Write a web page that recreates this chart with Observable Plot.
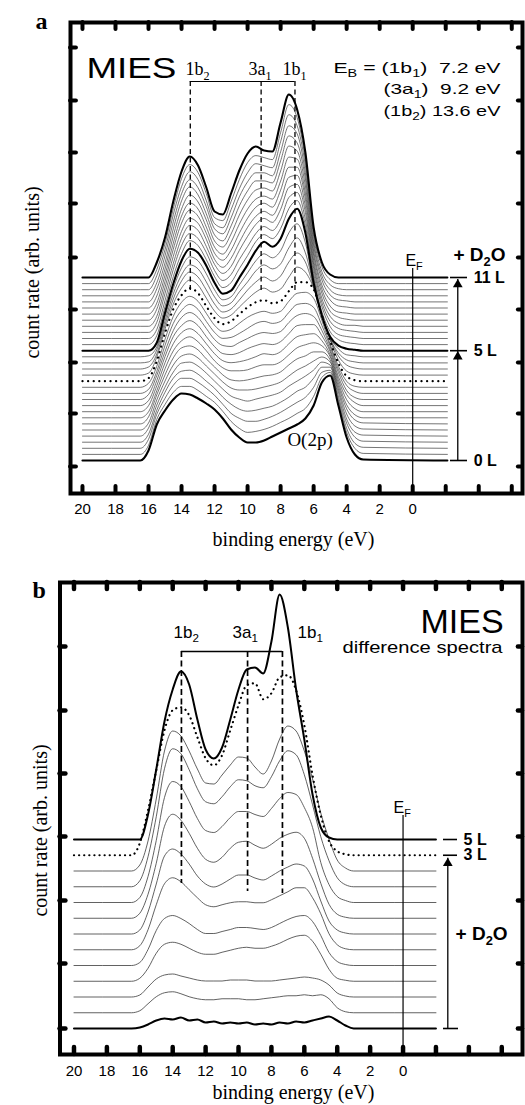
<!DOCTYPE html>
<html><head><meta charset="utf-8">
<script src="https://cdn.jsdelivr.net/npm/d3@7"></script>
<script src="https://cdn.jsdelivr.net/npm/@observablehq/plot@0.6"></script>
<style>
body{margin:0;background:#fff;}
#wrap{width:525px;}
#wrap svg{display:block;}
</style></head><body><div id="wrap"></div>
<script>
// ---------- DATA ----------
// binding energies (eV) at which each spectrum's height above its baseline was read
const energyGrid = [16.5, 16, 15.5, 15, 14.5, 14, 13.5, 13, 12.5, 12, 11.5, 11, 10.5, 10, 9.5, 9, 8.5, 8, 7.5, 7, 6.5, 6, 5.5, 5, 4.5, 4, 3.5, 3];
const spanA = [20, -2.1];   // flat baseline extends over this energy range
const spanB = [20, -2];

// Panel a: MIES spectra, 0 L (index 0) to 11 L (index 30), count rate above each baseline
const spectraA = [
  [0,10,36,50,61,67,66,62,57,51,42,31,23,18,18,20,24,28,32,36,42,55,78,85,55,23,6,1],
  [0,9,35,50,62,68,68,64,58,52,43,33,26,22,23,25,28,32,36,41,46,58,77,82,52,22,6,1],
  [0,9,34,50,63,70,70,66,60,53,44,35,30,27,27,29,32,36,41,46,51,61,76,78,49,20,5,1],
  [0,8,32,50,64,71,72,68,61,54,45,38,33,31,32,34,36,40,45,51,55,64,75,75,46,19,5,1],
  [0,8,31,49,64,73,74,70,63,55,47,40,37,35,37,39,41,44,50,55,60,66,74,71,44,17,4,1],
  [0,7,30,49,65,74,76,72,64,56,48,42,40,40,41,43,45,48,54,60,64,69,73,68,41,16,4,1],
  [0,7,29,49,66,76,78,74,65,57,49,44,43,44,46,48,49,52,59,65,68,72,72,64,38,15,4,1],
  [0,6,27,49,67,77,81,76,67,57,50,47,47,48,51,53,53,56,63,70,73,75,72,61,35,13,3,0],
  [0,6,26,49,68,79,83,78,68,58,51,49,50,52,55,58,57,60,68,75,77,78,71,57,32,12,3,0],
  [0,5,25,49,69,80,85,80,69,59,52,51,53,57,60,62,61,64,72,80,81,81,70,54,29,11,3,0],
  [0,5,24,48,69,82,87,82,71,60,54,53,57,61,65,67,66,68,77,84,86,83,69,50,27,9,2,0],
  [0,4,22,48,70,83,89,84,72,61,55,56,60,65,70,72,70,72,81,89,90,86,68,47,24,8,2,0],
  [0,4,21,48,71,85,91,86,74,62,56,58,64,70,74,76,74,76,86,94,95,89,67,43,21,6,1,0],
  [0,3,20,48,72,86,93,88,75,63,57,60,67,74,79,81,78,80,90,99,99,92,66,40,18,5,1,0],
  [0,2,18,46,71,87,95,90,77,64,57,60,68,76,83,87,83,86,98,108,103,87,60,35,15,4,1,0],
  [0,2,15,44,70,88,97,92,79,65,57,60,69,79,87,92,88,93,107,116,107,82,54,30,13,4,1,0],
  [0,1,13,42,69,88,98,94,81,66,57,60,71,81,92,98,94,99,115,125,110,78,47,24,10,3,1,0],
  [0,1,10,40,68,89,100,96,83,67,57,60,72,84,96,103,99,106,124,133,114,73,41,19,8,2,1,0],
  [0,0,8,38,67,90,102,98,85,68,57,60,73,86,100,109,104,112,132,142,118,68,35,14,5,2,1,0],
  [0,0,9,38,68,91,104,99,85,68,57,62,76,89,103,110,106,116,136,144,119,67,33,13,5,2,1,0],
  [0,0,9,38,69,93,105,100,86,68,58,64,79,92,105,112,108,119,141,146,119,65,32,12,4,2,1,0],
  [0,0,10,39,69,94,107,102,86,68,59,66,82,96,108,114,110,123,145,148,120,64,30,11,4,2,1,0],
  [0,0,10,39,70,95,108,103,87,67,59,68,84,99,110,115,111,126,149,151,120,62,28,10,3,1,1,0],
  [0,0,11,39,71,97,110,104,87,67,60,70,87,102,113,117,113,130,153,153,121,60,27,9,3,1,0,0],
  [0,0,11,39,71,98,111,105,87,67,60,72,90,105,115,118,115,133,157,155,121,59,25,8,2,1,0,0],
  [0,0,12,39,72,99,113,106,88,67,61,74,93,108,118,120,117,137,162,157,122,57,23,8,2,1,0,0],
  [0,0,13,39,73,101,115,107,88,67,61,76,96,111,121,121,119,141,166,159,123,56,22,7,2,1,0,0],
  [0,0,13,40,74,102,116,108,89,67,62,78,99,114,123,123,120,144,170,162,123,54,20,6,1,0,0,0],
  [0,0,14,40,75,103,118,110,89,66,62,80,101,117,126,124,122,148,175,164,124,53,18,5,1,0,0,0],
  [0,0,14,40,75,105,119,111,90,66,63,82,104,121,128,126,124,151,179,166,124,51,17,4,0,0,0,0],
  [0,0,15,40,76,106,121,112,90,66,63,84,107,124,131,127,126,155,183,168,125,50,15,3,0,0,0,0]
];
const thickA = [0, 18, 30];
const dottedA = [13];
const exposureA = [{i: 0, label: "0 L"}, {i: 18, label: "5 L"}, {i: 30, label: "11 L"}];

// Panel b: difference spectra, bottom (index 0) to 5 L (index 12)
const spectraB = [
  [0,1,4,8,10,9,11,8,9,6,7,5,6,5,6,4,5,4,6,5,7,6,8,10,12,8,3,0],
  [0,2,9,16,20,21,19,16,14,13,13,14,14,14,13,13,14,15,16,17,17,18,17,18,14,5,1,0],
  [0,2,10,18,22,23,21,19,17,16,16,16,17,17,17,16,16,16,17,18,19,20,19,17,12,4,1,0],
  [0,3,13,28,37,39,37,33,29,27,27,29,31,33,34,33,33,35,38,42,45,46,40,27,12,3,1,0],
  [0,3,16,35,47,50,47,42,36,32,32,34,36,38,38,37,36,38,42,46,49,50,44,30,13,4,1,0],
  [0,4,20,45,66,72,68,60,52,45,43,45,47,48,48,47,47,50,54,58,62,62,52,36,16,5,1,0],
  [0,4,22,50,78,85,80,70,58,50,47,50,55,59,59,56,54,58,63,67,70,68,55,33,13,4,1,0],
  [0,5,24,55,92,104,98,85,70,59,56,61,70,76,77,73,70,74,80,84,86,80,60,35,14,4,1,0],
  [0,5,26,62,105,121,116,101,84,72,70,76,85,91,91,88,86,94,104,110,108,95,75,40,18,6,2,0],
  [0,6,30,70,118,138,133,117,98,85,83,90,100,107,106,101,99,110,126,136,132,112,82,50,26,9,2,0],
  [0,6,30,72,120,140,135,120,102,88,87,96,106,114,113,104,97,110,132,145,140,120,92,58,32,11,3,0],
  [0,12,45,85,125,145,148,140,118,97,90,100,125,150,170,172,156,162,178,180,165,130,80,40,14,4,1,0],
  [0,0,25,70,118,150,168,155,120,90,81,92,120,150,170,172,166,198,245,212,150,100,45,12,2,0,0,0]
];
const thickB = [0, 12];
const dottedB = [11];
const exposureB = [{i: 11, label: "3 L"}, {i: 12, label: "5 L"}];

// peak assignments (binding energies, eV)
const orbitalsA = [{E: 13.47, label: "1b_2"}, {E: 9.18, label: "3a_1"}, {E: 7.13, label: "1b_1"}];
const orbitalsB = [{E: 13.47, label: "1b_2"}, {E: 9.45, label: "3a_1"}, {E: 7.33, label: "1b_1"}];
const bindingTable = ["E_B = (1b_1)\u00a0\u00a07.2 eV", "(3a_1)\u00a0\u00a09.2 eV", "(1b_2) 13.6 eV"];
const xTickLabels = [20, 18, 16, 14, 12, 10, 8, 6, 4, 2, 0];
const xTickMarks = [20, 18, 16, 14, 12, 10, 8, 6, 4, 2, 0, -2, -4, -6];

// ---------- LAYOUT ----------
const baseA = 6, stepA = 6.1;
const baseB = 0, stepB = 15.75;
const xDomA = [20.725, -6.65], yDomA = [-27, 444];
const xDomB = [20.85, -7.26], yDomB = [-26, 446];
const yTicksA = [419, 366, 314, 263, 209, 157, 104, 53, 0];
const yTicksB = [382, 318, 255, 192, 128, 65, 0];
const SERIF = "Liberation Serif", SANS = "Liberation Sans";

function waterfall(rows, span, base, step) {
  return rows.flatMap((row, i) => {
    const off = base + step * i;
    return [
      {id: i, E: span[0], v: off},
      ...energyGrid.map((E, k) => ({id: i, E, v: off + row[k]})),
      {id: i, E: span[1], v: off}
    ];
  });
}

function frameTicks(xDom, yDom, yTicks, w) {
  return [
    Plot.ruleX(xTickMarks, {x: d => d, y1: yDom[0], y2: yDom[0] + 7, strokeWidth: w, strokeLinecap: "round"}),
    Plot.ruleX(xTickMarks, {x: d => d, y1: yDom[1] - 7, y2: yDom[1], strokeWidth: w, strokeLinecap: "round"}),
    Plot.ruleY(yTicks, {y: d => d, x1: xDom[0], x2: xDom[0] - 0.36, strokeWidth: w, strokeLinecap: "round"}),
    Plot.ruleY(yTicks, {y: d => d, x1: xDom[1], x2: xDom[1] + 0.25, strokeWidth: w, strokeLinecap: "round"}),
    Plot.frame({strokeWidth: 4})
  ];
}

function txt(data, opts) {
  return Plot.text(data, {x: "E", y: "v", text: "label", lineAnchor: "bottom", fill: "black", ...opts});
}

function finish(svg, stretch) {
  svg.querySelectorAll("text").forEach(t => {
    const s = t.textContent;
    if (stretch[s]) { t.setAttribute("textLength", stretch[s]); t.setAttribute("lengthAdjust", "spacingAndGlyphs"); }
    if (!s.includes("_")) return;
    const fs = parseFloat(getComputedStyle(t).fontSize) || 15;
    const sh = (0.28 * fs).toFixed(2);
    const parts = s.split(/_(.)/);
    t.textContent = "";
    let down = false;
    parts.forEach((p, k) => {
      if (p === "") return;
      const ts = document.createElementNS("http://www.w3.org/2000/svg", "tspan");
      ts.textContent = p;
      if (k % 2 === 1) { ts.setAttribute("font-size", (0.68 * fs).toFixed(1)); ts.setAttribute("dy", sh); down = true; }
      else if (down) { ts.setAttribute("dy", -sh); down = false; }
      t.appendChild(ts);
    });
  });
}

// ---------- PANEL A ----------
const curvesA = waterfall(spectraA, spanA, baseA, stepA);
const baselineA = i => baseA + stepA * i;
const plotA = Plot.plot({
  width: 525, height: 555, marginLeft: 70, marginRight: 3, marginTop: 22, marginBottom: 62,
  style: {background: "white", color: "black", fontFamily: SANS, fontSize: "15px", overflow: "visible"},
  x: {domain: xDomA}, y: {domain: yDomA, axis: null},
  marks: [
    Plot.line(curvesA.filter(d => !thickA.includes(d.id) && !dottedA.includes(d.id)),
      {x: "E", y: "v", z: "id", stroke: "#3a3a3a", strokeWidth: 0.7, curve: "monotone-x"}),
    Plot.line(curvesA.filter(d => dottedA.includes(d.id)),
      {x: "E", y: "v", z: "id", stroke: "black", strokeWidth: 2.2, strokeDasharray: "0.1,5.5", strokeLinecap: "round", curve: "monotone-x"}),
    Plot.line(curvesA.filter(d => thickA.includes(d.id)),
      {x: "E", y: "v", z: "id", stroke: "black", strokeWidth: 2.1, curve: "monotone-x"}),
    // peak markers
    Plot.ruleX(orbitalsA, {x: "E", y1: 385, y2: 175, strokeWidth: 1.3, strokeDasharray: "5,3.5"}),
    Plot.ruleY([385], {x1: orbitalsA[0].E, x2: orbitalsA[2].E, strokeWidth: 1.2}),
    // Fermi level
    Plot.ruleX([0], {y1: 198, y2: yDomA[0], strokeWidth: 1.2}),
    // exposure scale
    Plot.ruleX([-2.73], {y1: baselineA(0), y2: baselineA(30) - 2, strokeWidth: 1.3}),
    Plot.dot([baselineA(18) - 6, baselineA(30) - 7], {x: -2.73, y: d => d, symbol: "triangle", r: 3.6, fill: "black", stroke: "none"}),
    Plot.ruleY(exposureA, {y: d => baselineA(d.i), x1: -2.29, x2: -3.32, strokeWidth: 1.6}),
    Plot.text(exposureA, {x: -3.69, y: d => baselineA(d.i), text: "label", textAnchor: "start", fontWeight: "bold", fontSize: 16}),
    ...frameTicks(xDomA, yDomA, yTicksA, 4),
    Plot.axisX({ticks: xTickLabels, tickSize: 0, tickPadding: 10, fontSize: 15, label: null}),
    // texts
    txt([{E: 22.85, v: 438, label: "a"}], {textAnchor: "start", fontFamily: SERIF, fontWeight: "bold", fontSize: 24}),
    txt([{E: 19.76, v: 389, label: "MIES"}], {textAnchor: "start", fontSize: 30}),
    txt(orbitalsA.map((d, k) => ({E: [13.76, 9.94, 7.89][k], v: 392, label: d.label})), {textAnchor: "start", fontFamily: SERIF, fontSize: 18}),
    txt([{E: 4.80, v: 394, label: bindingTable[0]}, {E: 1.77, v: 373, label: bindingTable[1]}, {E: 1.77, v: 351, label: bindingTable[2]}], {textAnchor: "start", fontSize: 15}),
    txt([{E: 7.59, v: 21, label: "O(2p)"}], {textAnchor: "start", fontFamily: SERIF, fontSize: 19}),
    txt([{E: 0.44, v: 201, label: "E_F"}], {textAnchor: "start", fontSize: 16}),
    txt([{E: -2.47, v: 206, label: "+ D_2O"}], {textAnchor: "start", fontWeight: "bold", fontSize: 19}),
    txt([{E: 7.22, v: -79, label: "binding energy (eV)"}], {textAnchor: "middle", fontFamily: SERIF, fontSize: 20}),
    txt([{E: 22.66, v: 194, label: "count rate (arb. units)"}], {textAnchor: "middle", fontFamily: SERIF, fontSize: 20, rotate: -90})
  ]
});

// ---------- PANEL B ----------
const curvesB = waterfall(spectraB, spanB, baseB, stepB);
const baselineB = i => baseB + stepB * i;
const plotB = Plot.plot({
  width: 525, height: 550, marginLeft: 59.5, marginRight: 3, marginTop: 27, marginBottom: 51,
  style: {background: "white", color: "black", fontFamily: SANS, fontSize: "15px", overflow: "visible"},
  x: {domain: xDomB}, y: {domain: yDomB, axis: null},
  marks: [
    Plot.line(curvesB.filter(d => !thickB.includes(d.id) && !dottedB.includes(d.id)),
      {x: "E", y: "v", z: "id", stroke: "#3a3a3a", strokeWidth: 0.8, curve: "monotone-x"}),
    Plot.line(curvesB.filter(d => dottedB.includes(d.id)),
      {x: "E", y: "v", z: "id", stroke: "black", strokeWidth: 2.2, strokeDasharray: "0.1,5", strokeLinecap: "round", curve: "monotone-x"}),
    Plot.line(curvesB.filter(d => thickB.includes(d.id)),
      {x: "E", y: "v", z: "id", stroke: "black", strokeWidth: 2, curve: "monotone-x"}),
    Plot.ruleX(orbitalsB, {x: "E", y1: 377, y2: (d, k) => [145, 137, 135][k], strokeWidth: 1.7, strokeDasharray: "6,3.5"}),
    Plot.ruleY([377], {x1: orbitalsB[0].E, x2: orbitalsB[2].E, strokeWidth: 1.3}),
    Plot.ruleX([0], {y1: 213, y2: yDomB[0], strokeWidth: 1.2}),
    Plot.ruleX([-2.72], {y1: 0, y2: baselineB(11) - 3, strokeWidth: 1.3}),
    Plot.dot([baselineB(11) - 8], {x: -2.72, y: d => d, symbol: "triangle", r: 3.6, fill: "black", stroke: "none"}),
    Plot.ruleY(exposureB, {y: d => baselineB(d.i), x1: -2.46, x2: -3.31, strokeWidth: 1.6}),
    Plot.ruleY([0], {x1: -2.46, x2: -3.37, strokeWidth: 1.6}),
    Plot.text(exposureB, {x: -3.68, y: d => baselineB(d.i), text: "label", textAnchor: "start", fontWeight: "bold", fontSize: 16}),
    ...frameTicks(xDomB, yDomB, yTicksB, 4.5),
    Plot.axisX({ticks: xTickLabels, tickSize: 0, tickPadding: 11, fontSize: 15, label: null}),
    txt([{E: 22.52, v: 431, label: "b"}], {textAnchor: "start", fontFamily: SERIF, fontWeight: "bold", fontSize: 24}),
    txt([{E: -6.11, v: 396, label: "MIES"}], {textAnchor: "end", fontSize: 34}),
    txt([{E: -6.05, v: 376, label: "difference spectra"}], {textAnchor: "end", fontSize: 17}),
    txt(orbitalsB.map((d, k) => ({E: [13.95, 10.36, 6.41][k], v: 391, label: d.label})), {textAnchor: "start", fontSize: 17}),
    txt([{E: 0.58, v: 216, label: "E_F"}], {textAnchor: "start", fontSize: 16}),
    txt([{E: -3.19, v: 89, label: "+ D_2O"}], {textAnchor: "start", fontWeight: "bold", fontSize: 19}),
    txt([{E: 6.66, v: -70, label: "binding energy (eV)"}], {textAnchor: "middle", fontFamily: SERIF, fontSize: 20}),
    txt([{E: 21.67, v: 198, label: "count rate (arb. units)"}], {textAnchor: "middle", fontFamily: SERIF, fontSize: 20, rotate: -90})
  ]
});

const wrap = document.getElementById("wrap");
wrap.appendChild(plotA);
wrap.appendChild(plotB);
finish(plotA, {"MIES": 90, [bindingTable[0]]: 167, [bindingTable[1]]: 117, [bindingTable[2]]: 117});
finish(plotB, {"difference spectra": 160});
</script></body></html>
